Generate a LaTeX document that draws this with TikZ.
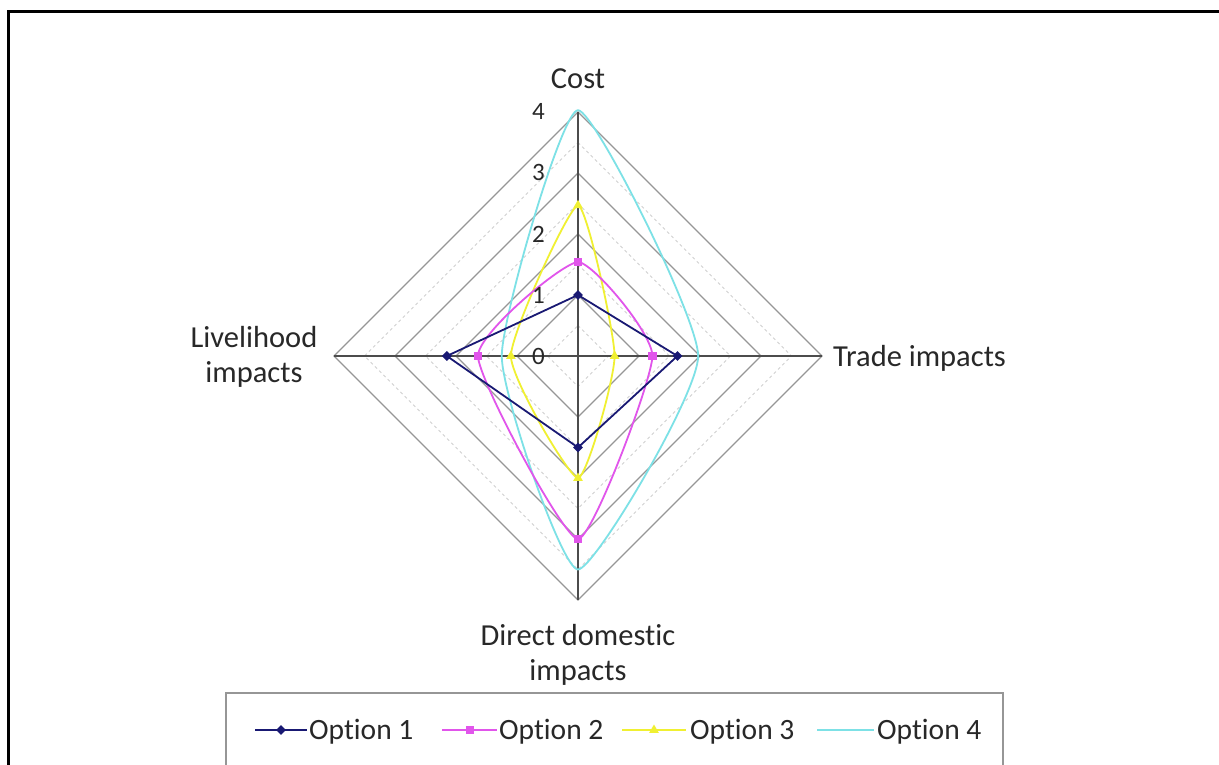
\documentclass[tikz,border=0pt]{standalone}
\usepackage{fontspec}
\setmainfont{Carlito}[Ligatures=NoCommon]
\usetikzlibrary{shapes.geometric}
\definecolor{opnavy}{RGB}{25,25,115}
\definecolor{opmag}{RGB}{225,85,235}
\definecolor{opyel}{RGB}{240,240,50}
\definecolor{opcyan}{RGB}{125,225,230}
\definecolor{gridgray}{RGB}{150,150,150}
\definecolor{txt}{RGB}{40,40,40}
\begin{document}
\begin{tikzpicture}[x=1pt,y=-1pt,
  lbl/.style={font=\fontsize{30.5}{35}\selectfont, text=txt, inner sep=0pt, align=center},
  ticklbl/.style={font=\fontsize{25}{30}\selectfont, text=txt, inner sep=0pt, anchor=base east},
  legtext/.style={font=\fontsize{29.5}{35}\selectfont, text=txt, inner sep=0pt, anchor=base west},
  gridline/.style={draw=gridgray, line width=1.2pt},
  minorline/.style={draw=gridgray!45, line width=0.8pt, dash pattern=on 3pt off 3pt},
  axisline/.style={draw=black!70, line width=1.3pt},
  s1/.style={draw=opnavy, line width=1.8pt, line join=round},
  s2/.style={draw=opmag, line width=1.8pt, line join=round},
  s3/.style={draw=opyel, line width=1.8pt, line join=round},
  s4/.style={draw=opcyan, line width=1.8pt, line join=round},
  mk1/.style={diamond, fill=opnavy, inner sep=0pt, minimum size=10pt},
  mk2/.style={rectangle, fill=opmag, inner sep=0pt, minimum size=8.5pt},
  mk3/.style={regular polygon, regular polygon sides=3, fill=opyel, inner sep=0pt, minimum size=11pt},
]
\useasboundingbox (0,0) rectangle (1219,765);
\clip (0,0) rectangle (1219,765);
\fill[white] (0,0) rectangle (1219,765);
% outer frame (partly cut off)
\draw[line width=3pt] (8.5,800) -- (8.5,12) -- (1240,12);

\begin{scope}[shift={(578,356)},x=61pt,y=61pt]
  \coordinate (O) at (0,0);
  \coordinate (axC) at (0,4);
  \coordinate (axT) at (4,0);
  \coordinate (axD) at (0,-4);
  \coordinate (axL) at (-4,0);
  \foreach \r in {0.5,1.5,2.5,3.5}
    \draw[minorline] (0,\r) -- (\r,0) -- (0,-\r) -- (-\r,0) -- cycle;
  \foreach \r in {1,2,3,4}
    \draw[gridline] (0,\r) -- (\r,0) -- (0,-\r) -- (-\r,0) -- cycle;
  \draw[axisline] (axL) -- (axT);
  \draw[axisline] (axC) -- (axD);
  % series data points
  \coordinate (o1c) at (0,1);     \coordinate (o1t) at (1.63,0);
  \coordinate (o1d) at (0,-1.5);  \coordinate (o1l) at (-2.15,0);
  \coordinate (o2c) at (0,1.54);  \coordinate (o2t) at (1.22,0);
  \coordinate (o2d) at (0,-3.0);  \coordinate (o2l) at (-1.64,0);
  \coordinate (o3c) at (0,2.47);  \coordinate (o3t) at (0.6,0);
  \coordinate (o3d) at (0,-2.0);  \coordinate (o3l) at (-1.1,0);
  \coordinate (o4c) at (0,4.03);  \coordinate (o4t) at (1.97,0);
  \coordinate (o4d) at (0,-3.5);  \coordinate (o4l) at (-1.25,0);
  \draw[s4] plot[smooth cycle, tension=0.3] coordinates {(o4c) (o4t) (o4d) (o4l)};
  \draw[s3] plot[smooth cycle, tension=0.3] coordinates {(o3c) (o3t) (o3d) (o3l)};
  \draw[s2] plot[smooth cycle, tension=0.3] coordinates {(o2c) (o2t) (o2d) (o2l)};
  \draw[s1] (o1c) -- (o1t) -- (o1d) -- (o1l) -- cycle;
  \foreach \p in {o3c,o3t,o3d,o3l} \node[mk3] at (\p) {};
  \foreach \p in {o2c,o2t,o2d,o2l} \node[mk2] at (\p) {};
  \foreach \p in {o1c,o1t,o1d,o1l} \node[mk1] at (\p) {};
\end{scope}

% value labels
\node[ticklbl] (v0) at (545,364) {0};
\node[ticklbl] (v1) at (545,303) {1};
\node[ticklbl] (v2) at (545,242) {2};
\node[ticklbl] (v3) at (545,181) {3};
\node[ticklbl] (v4) at (545,120) {4};

% category labels
\node[lbl, anchor=base] (cost) at (578,89) {Cost};
\node[lbl, anchor=base west] (trade) at (833,366) {Trade impacts};
\node[lbl] (live) at (254,357) {Livelihood\\impacts};
\node[lbl] (direct) at (578,655) {Direct domestic\\impacts};

% legend
\draw[draw=gridgray, line width=1.5pt] (226,693) rectangle (1003,800);
\coordinate (a1) at (255,730); \coordinate (b1) at (307,730);
\coordinate (a2) at (442,730); \coordinate (b2) at (497,730);
\coordinate (a3) at (622,730); \coordinate (b3) at (686,730);
\coordinate (a4) at (817,730); \coordinate (b4) at (874,730);
\draw[s1] (a1) -- (b1); \node[mk1] (m1) at (281,730) {};
\draw[s2] (a2) -- (b2); \node[mk2] (m2) at (470,730) {};
\draw[s3] (a3) -- (b3); \node[mk3] (m3) at (654,730) {};
\draw[s4] (a4) -- (b4);
\node[legtext] (t1) at (309,739) {Option 1};
\node[legtext] (t2) at (499,739) {Option 2};
\node[legtext] (t3) at (690,739) {Option 3};
\node[legtext] (t4) at (877,739) {Option 4};
\end{tikzpicture}
\end{document}
